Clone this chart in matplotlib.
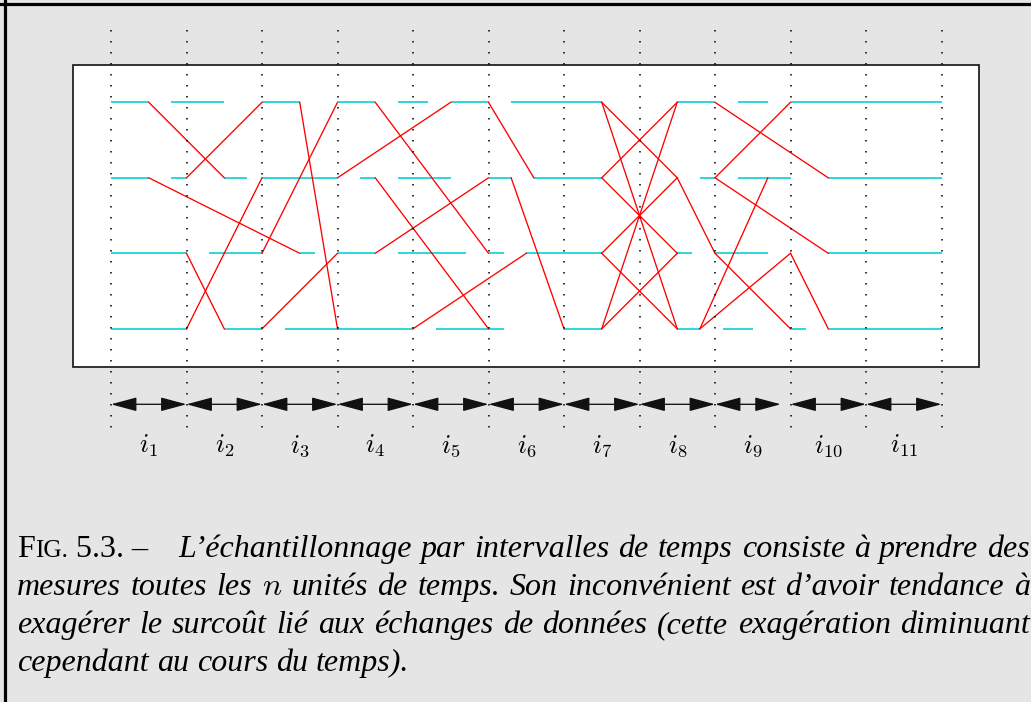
import matplotlib
matplotlib.use("Agg")
import matplotlib.pyplot as plt
from matplotlib.patches import Rectangle, FancyArrowPatch
from matplotlib.transforms import Affine2D

# ---------------- data (time in interval units, level = row index) ----------------
levels = [0, 1, 2, 3]
cyan_level0 = [(0, 0.5), (0.8, 1.5), (2.0, 2.5), (3.0, 3.5), (3.8, 4.2), (4.5, 5.0),
               (5.3, 6.5), (7.5, 8.0), (8.3, 8.7), (9.0, 11.0)]
cyan_level1 = [(0, 0.5), (0.8, 1.0), (1.5, 1.8), (2.0, 3.0), (3.3, 3.5), (3.8, 4.5),
               (5.0, 5.3), (5.6, 6.5), (7.8, 8.0), (8.3, 9.0), (9.5, 11.0)]
cyan_level2 = [(0, 1.0), (1.3, 2.0), (2.5, 2.7), (3.0, 3.5), (3.8, 4.7), (5.0, 5.2),
               (5.5, 6.5), (7.5, 7.7), (8.0, 8.7), (9.5, 11.0)]
cyan_level3 = [(0, 1.0), (1.5, 2.0), (2.3, 4.0), (4.3, 5.2), (6.0, 6.5), (7.5, 7.8),
               (8.1, 8.5), (9.0, 9.2), (9.5, 11.0)]
cyan_segments = [cyan_level0, cyan_level1, cyan_level2, cyan_level3]

# red transfers: (t_start, level_start, t_end, level_end)
red_t0 = [0.5, 1.0, 0.5, 1.0, 1.0, 2.0, 2.0, 2.5, 3.0, 3.5, 3.5, 3.5, 4.0, 5.0, 5.3,
          6.5, 6.5, 6.5, 6.5, 6.5, 6.5, 6.5, 6.5,
          7.5, 7.8, 7.8, 8.0, 8.0, 8.0, 8.0, 9.0]
red_k0 = [0, 1, 1, 2, 3, 2, 3, 0, 1, 0, 1, 2, 3, 0, 1,
          0, 0, 1, 1, 2, 2, 3, 3,
          1, 3, 3, 2, 0, 1, 1, 2]
red_t1 = [1.5, 2.0, 2.5, 1.5, 2.0, 3.0, 3.0, 3.0, 4.5, 5.0, 5.0, 5.0, 5.5, 5.6, 6.0,
          7.5, 7.5, 7.5, 7.5, 7.5, 7.5, 7.5, 7.5,
          8.0, 9.0, 8.7, 9.0, 9.5, 9.0, 9.5, 9.5]
red_k1 = [1, 0, 2, 3, 1, 0, 2, 3, 0, 2, 3, 1, 2, 1, 3,
          1, 3, 0, 2, 1, 3, 2, 0,
          2, 2, 1, 3, 1, 0, 2, 3]

boundaries = list(range(12))
arrow_starts = [0, 1, 2, 3, 4, 5, 6, 7, 8, 9, 10]
arrow_ends = [1, 2, 3, 4, 5, 6, 7, 8, 8.87, 10, 11]
interval_labels = [r'$i_{%d}$' % (k + 1) for k in range(11)]

caption_prefix = "5.3. \u2013"
caption_lines = [
    "L\u2019\u00e9chantillonnage par intervalles de temps consiste \u00e0 prendre des",
    "mesures toutes les $n$ unit\u00e9s de temps. Son inconv\u00e9nient est d\u2019avoir tendance \u00e0",
    "exag\u00e9rer le surco\u00fbt li\u00e9 aux \u00e9changes de donn\u00e9es (cette exag\u00e9ration diminuant",
    "cependant au cours du temps).",
]

# ---------------- figure ----------------
W, H = 1031, 702
fig = plt.figure(figsize=(W / 100, H / 100), dpi=100, facecolor='#e5e5e5')
ax = fig.add_axes([0, 0, 1, 1])
ax.set_facecolor('none')
ax.axis('off')
ppu = 75.5
x0px, y0px = 111.0, 102.3
ax.set_xlim(-x0px / ppu, (W - x0px) / ppu)
ax.set_ylim((H - y0px) / ppu, -y0px / ppu)

# outer black frame lines (left and top)
ax.axvline((5.5 - x0px) / ppu, color='black', lw=2.3)
ax.axhline((4.5 - y0px) / ppu, color='black', lw=2.3)

# white panel
ax.add_patch(Rectangle((-0.5, -0.5), 12.0, 4.0, facecolor='white',
                       edgecolor='#111111', lw=1.2, zorder=1))

# dotted boundaries
for b in boundaries:
    ax.plot([b, b], [-0.96, 4.42], color='black', lw=1.1,
            linestyle=(0, (1, 6.2)), dash_capstyle='butt', zorder=4)

# cyan segments
for k, segs in zip(levels, cyan_segments):
    for a, b in segs:
        ax.plot([a, b], [k, k], color='#00cfd2', lw=1.15, solid_capstyle='butt', zorder=2)

# red transfers
for a, ka, b, kb in zip(red_t0, red_k0, red_t1, red_k1):
    ax.plot([a, b], [ka, kb], color='#ff0000', lw=0.95, zorder=3)

# arrows
for a, b in zip(arrow_starts, arrow_ends):
    arr = FancyArrowPatch((a, 4.0), (b, 4.0),
                          arrowstyle='<|-|>,head_length=1.6,head_width=0.43',
                          mutation_scale=10, color='#111111', lw=0.95,
                          shrinkA=0, shrinkB=0, zorder=5)
    ax.add_patch(arr)

# interval labels
plt.rcParams['mathtext.fontset'] = 'cm'
for k, lab in enumerate(interval_labels):
    ax.text(k + 0.5, 4.64, lab, ha='center', va='baseline', fontsize=19, color='black')

# ---------------- caption (justified) ----------------
pix = Affine2D().scale(1, -1).translate(0, H)  # top-left pixel coords
fs = 23
serif = ['Liberation Serif', 'DejaVu Serif']
renderer = fig.canvas.get_renderer()


def width_of(t):
    return t.get_window_extent(renderer).width


baselines = [557, 595, 633, 671]
left = 17
right = 1030

# prefix "FIG. 5.3. –"
x = left
t = fig.text(x, baselines[0], "F", transform=pix, fontsize=fs, family=serif, va='baseline')
x += width_of(t)
t = fig.text(x, baselines[0], "IG.", transform=pix, fontsize=fs * 0.8, family=serif, va='baseline')
x += width_of(t) + 8
t = fig.text(x, baselines[0], caption_prefix, transform=pix, fontsize=fs, family=serif, va='baseline')

starts = [178, left, left, left]
for i, line in enumerate(caption_lines):
    words = line.split(' ')
    texts = []
    for w in words:
        texts.append(fig.text(0, baselines[i], w, transform=pix, fontsize=fs,
                              family=serif, style='italic', va='baseline'))
    widths = [width_of(tt) for tt in texts]
    if i < len(caption_lines) - 1:
        gap = (right - starts[i] - sum(widths)) / (len(words) - 1)
    else:
        gap = fs * 100 / 72 * 0.25
    x = starts[i]
    for tt, w in zip(texts, widths):
        tt.set_x(x)
        x += w + gap

fig.savefig('out.png', dpi=100, facecolor=fig.get_facecolor())
